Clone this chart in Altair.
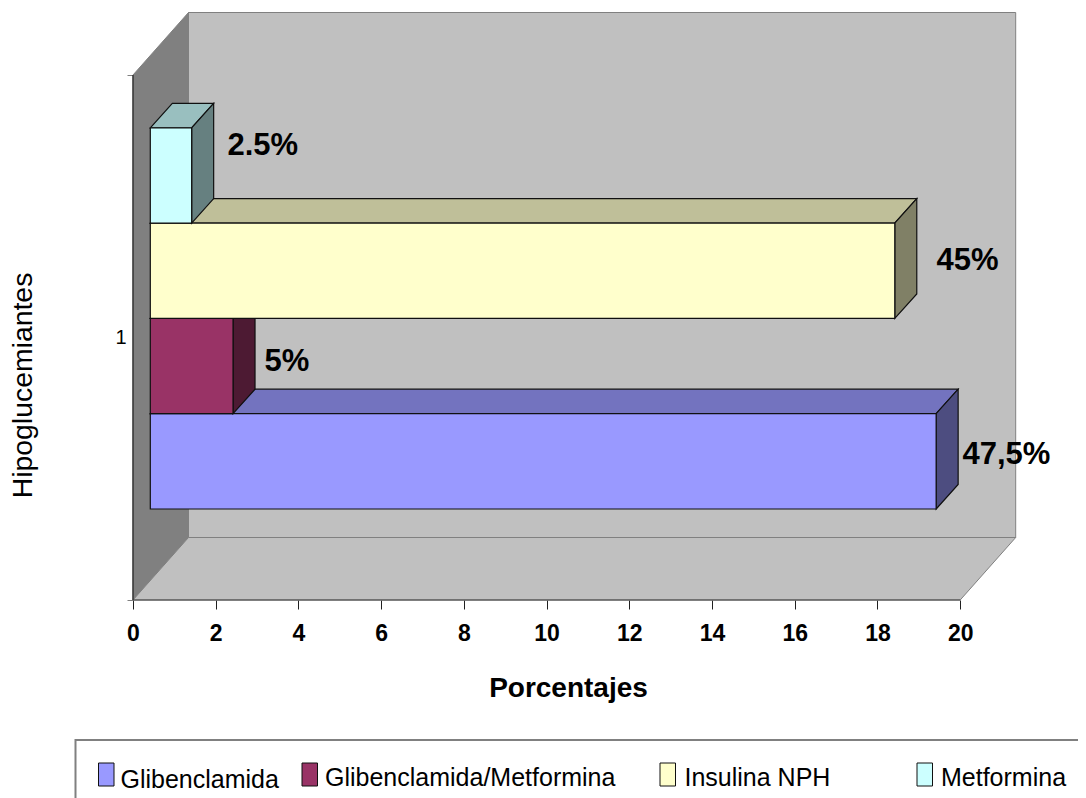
import altair as alt
import pandas as pd

# Chart values
categories = ["Glibenclamida", "Glibenclamida/Metformina", "Insulina NPH", "Metformina"]
values = [19, 2, 18, 1]
value_labels = ["47,5%", "5%", "45%", "2.5%"]
x_ticks = [0, 2, 4, 6, 8, 10, 12, 14, 16, 18, 20]

# Colours: front, top, side
front_colors = ["#9999FF", "#993366", "#FFFFCC", "#CCFFFF"]
top_colors = ["#7373BF", "#732650", "#BFBF99", "#99BFBF"]
side_colors = ["#4D4D80", "#4D1A33", "#808066", "#668080"]

# Geometry in data units (x: value units, y: 0..1 = front axis height)
PX_X = 41.36
PX_Y = 525.0
PLOT_W = 883
PLOT_H = 588
wall_dx = 55.5 / PX_X
wall_dy = 62.5 / PX_Y
bar_x0 = 17.3 / PX_X
bar_y0 = 91.0 / PX_Y
bar_h = 95.3 / PX_Y
bar_dx = 22.0 / PX_X
bar_dy = 24.5 / PX_Y

xs = alt.Scale(domain=[0, PLOT_W / PX_X], nice=False, zero=False)
ys = alt.Scale(domain=[0, PLOT_H / PX_Y], nice=False, zero=False)

x_axis = alt.Axis(
    values=x_ticks,
    title="Porcentajes",
    titleFont="Liberation Sans",
    titleFontSize=28,
    titleFontWeight="bold",
    titleColor="black",
    titleX=435,
    titleY=74,
    labelFont="Liberation Sans",
    labelFontSize=23,
    labelFontWeight="bold",
    labelColor="black",
    labelPadding=13,
    labelFlush=False,
    labelOverlap=False,
    tickSize=9,
    tickColor="#202020",
    domain=False,
    grid=False,
)
y_axis = alt.Axis(
    values=[0, 0.5, 1],
    labelExpr="datum.value == 0.5 ? '1' : ''",
    tickOpacity={"expr": "datum.value == 0.5 ? 0 : 1"},
    title="Hipoglucemiantes",
    titleFont="Liberation Sans",
    titleFontSize=28.4,
    titleFontWeight="normal",
    titleColor="black",
    titleX=-96,
    titleY=373,
    labelFont="Liberation Sans",
    labelFontSize=20,
    labelColor="black",
    labelPadding=1,
    tickSize=6,
    tickColor="#808080",
    domain=False,
    grid=False,
)

X = alt.X("x:Q", scale=xs, axis=x_axis)
Y = alt.Y("y:Q", scale=ys, axis=y_axis)
X2 = alt.X2("x2:Q")
Y2 = alt.Y2("y2:Q")


def px(v):
    return (v - 133.5) / PX_X


def py(v):
    return (600.0 - v) / PX_Y


def rect(x, x2, y, y2, **kw):
    d = pd.DataFrame({"x": [x], "x2": [x2], "y": [y], "y2": [y2]})
    return alt.Chart(d).mark_rect(**kw).encode(x=X, x2=X2, y=Y, y2=Y2)


def top_face(x, x2, y, dx, dy, **kw):
    d = pd.DataFrame({"y": [y, y + dy], "x": [x, x + dx], "x2": [x2, x2 + dx]})
    return alt.Chart(d).mark_area(orient="horizontal", **kw).encode(y=Y, x=X, x2=X2)


def side_face(x, y, y2, dx, dy, **kw):
    d = pd.DataFrame({"x": [x, x + dx], "y": [y, y + dy], "y2": [y2, y2 + dy]})
    return alt.Chart(d).mark_area(orient="vertical", **kw).encode(x=X, y=Y, y2=Y2)


def rule(x, x2, y, y2, color, width=1.0):
    d = pd.DataFrame({"x": [x], "x2": [x2], "y": [y], "y2": [y2]})
    enc = {"x": X, "y": Y}
    if x != x2:
        enc["x2"] = X2
    if y != y2:
        enc["y2"] = Y2
    return alt.Chart(d).mark_rule(color=color, strokeWidth=width).encode(**enc)


WALL = "#808080"
layers = [
    rect(wall_dx, 20 + wall_dx, wall_dy, 1 + wall_dy, fill="#C0C0C0", stroke=WALL, strokeWidth=1),
    side_face(0, 0, 1, wall_dx, wall_dy, fill="#808080", stroke=WALL, strokeWidth=1),
    top_face(0, 20, 0, wall_dx, wall_dy, fill="#C0C0C0", stroke=WALL, strokeWidth=1),
    rule(0, 0, 0, 1, "#202020", 1.2),
    rule(0, 20, 0, 0, "#404040", 1.2),
]

# Bars, drawn bottom first so each front covers the top face below it
for i, v in enumerate(values):
    yb = bar_y0 + i * bar_h
    yt = yb + bar_h
    x1 = bar_x0 + v
    stroke = dict(stroke="#101010", strokeWidth=1.2)
    layers.append(top_face(bar_x0, x1, yt, bar_dx, bar_dy, fill=top_colors[i], **stroke))
    layers.append(side_face(x1, yb, yt, bar_dx, bar_dy, fill=side_colors[i], **stroke))
    layers.append(rect(bar_x0, x1, yb, yt, fill=front_colors[i], **stroke))

# Value labels
label_df = pd.DataFrame(
    {
        "x": [px(963), px(265), px(937), px(228)],
        "y": [py(464), py(371), py(270), py(155)],
        "t": value_labels,
    }
)
layers.append(
    alt.Chart(label_df)
    .mark_text(
        align="left",
        baseline="alphabetic",
        font="Liberation Sans",
        fontSize=31,
        fontWeight="bold",
        color="black",
    )
    .encode(x=X, y=Y, text="t:N")
)

# Legend
layers.append(rect(px(76), px(1100), py(740), py(830), fill="white", stroke=WALL, strokeWidth=2))
swatch_left = [99, 302.5, 660.5, 917.5]
text_left = [121, 325.5, 685, 941.5]
text_base = [788, 786, 786, 786]
for i, c in enumerate(categories):
    layers.append(
        rect(px(swatch_left[i]), px(swatch_left[i] + 15.5), py(786), py(763),
             fill=front_colors[i], stroke="#101010", strokeWidth=1)
    )
legend_df = pd.DataFrame(
    {"x": [px(v) for v in text_left], "y": [py(v) for v in text_base], "t": categories}
)
layers.append(
    alt.Chart(legend_df)
    .mark_text(
        align="left",
        baseline="alphabetic",
        font="Liberation Sans",
        fontSize=25,
        color="black",
    )
    .encode(x=X, y=Y, text="t:N")
)

chart = (
    alt.layer(*layers)
    .properties(
        width=PLOT_W,
        height=PLOT_H,
        autosize=alt.AutoSizeParams(type="none"),
        padding={"left": 125, "top": 4, "right": 62, "bottom": 198},
        background="white",
    )
    .configure_view(stroke=None)
)

chart.save("out.html", embed_options={"renderer": "svg", "actions": False})
